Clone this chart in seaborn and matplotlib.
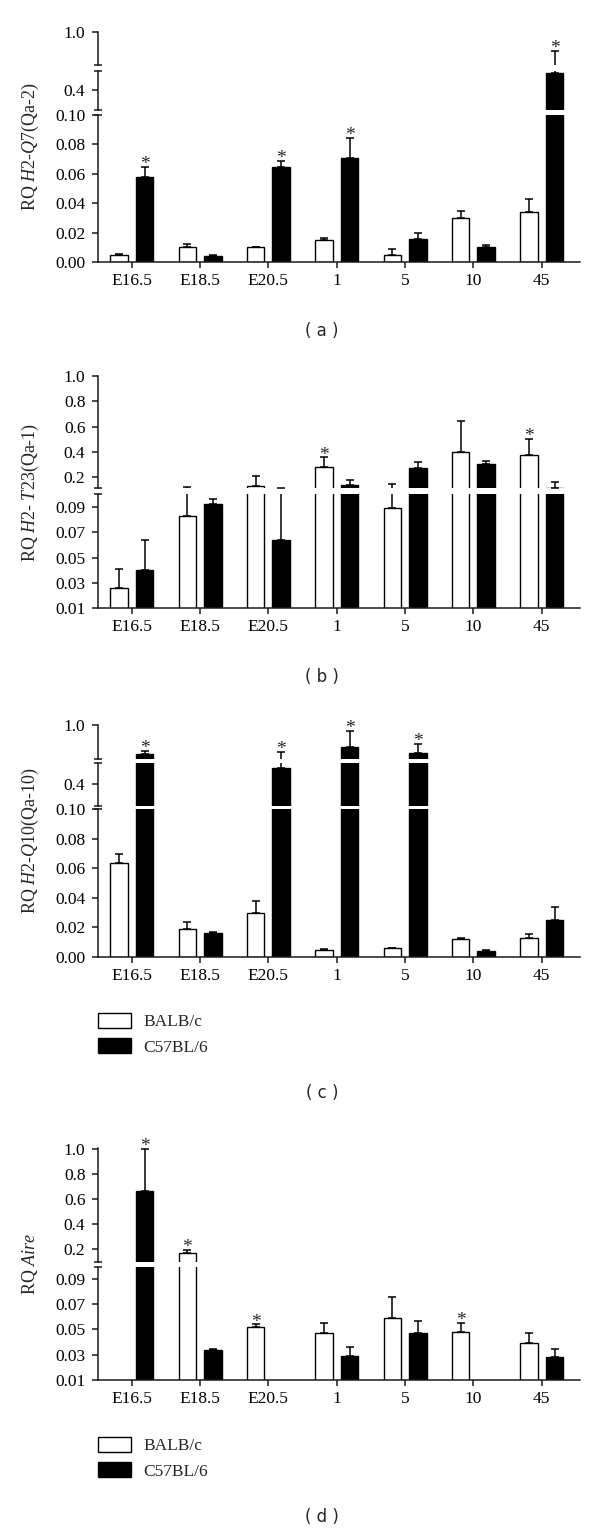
import numpy as np
import pandas as pd
import matplotlib
matplotlib.use("Agg")
import matplotlib.pyplot as plt
import seaborn as sns
from matplotlib.patches import Patch
from matplotlib.container import BarContainer

sns.set_style("ticks")
plt.rcParams['font.family'] = ['Liberation Serif', 'DejaVu Serif']
plt.rcParams['mathtext.fontset'] = 'custom'
plt.rcParams['mathtext.rm'] = 'Liberation Serif'
plt.rcParams['mathtext.it'] = 'Liberation Serif:italic'

# ---------------- data ----------------
categories = ["E16.5", "E18.5", "E20.5", "1", "5", "10", "45"]
strains = ["BALB/c", "C57BL/6"]

# (a) H2-Q7 (Qa-2)
a_balb = [0.0045, 0.010, 0.010, 0.0152, 0.005, 0.0297, 0.034]
a_balb_sem = [0.0009, 0.0025, 0.0002, 0.0014, 0.0036, 0.0053, 0.0086]
a_c57 = [0.058, 0.0041, 0.0644, 0.0705, 0.0154, 0.0104, 0.572]
a_c57_sem = [0.0064, 0.0004, 0.0041, 0.0141, 0.0041, 0.0012, 0.199]
a_sig = [("E16.5", "C57BL/6"), ("E20.5", "C57BL/6"), ("1", "C57BL/6"), ("45", "C57BL/6")]

# (b) H2-T23 (Qa-1)
b_balb = [0.0255, 0.083, 0.132, 0.282, 0.089, 0.400, 0.376]
b_balb_sem = [0.0155, 0.038, 0.073, 0.073, 0.056, 0.245, 0.124]
b_c57 = [0.040, 0.092, 0.0635, 0.137, 0.268, 0.303, 0.116]
b_c57_sem = [0.024, 0.004, 0.049, 0.037, 0.050, 0.021, 0.042]
b_sig = [("1", "BALB/c"), ("45", "BALB/c")]

# (c) H2-Q10 (Qa-10)
c_balb = [0.0634, 0.0187, 0.0296, 0.0050, 0.0059, 0.0122, 0.0129]
c_balb_sem = [0.0066, 0.0053, 0.0084, 0.0006, 0.0003, 0.0007, 0.0029]
c_c57 = [0.658, 0.0160, 0.548, 0.747, 0.670, 0.0043, 0.025]
c_c57_sem = [0.042, 0.0010, 0.141, 0.183, 0.108, 0.0007, 0.009]
c_sig = [("E16.5", "C57BL/6"), ("E20.5", "C57BL/6"), ("1", "C57BL/6"), ("5", "C57BL/6")]

# (d) Aire
d_balb = [np.nan, 0.171, 0.0523, 0.047, 0.0592, 0.048, 0.039]
d_balb_sem = [np.nan, 0.024, 0.0017, 0.0082, 0.017, 0.007, 0.0085]
d_c57 = [0.66, 0.0337, np.nan, 0.0289, 0.047, np.nan, 0.0278]
d_c57_sem = [0.34, 0.0010, np.nan, 0.0071, 0.0095, np.nan, 0.0064]
d_sig = [("E16.5", "C57BL/6"), ("E18.5", "BALB/c"), ("E20.5", "BALB/c"), ("10", "BALB/c")]

ylabels = [r"RQ $\mathit{H2}$-$\mathit{Q7}$(Qa-2)",
           r"RQ $\mathit{H2}$- $\mathit{T23}$(Qa-1)",
           r"RQ $\mathit{H2}$-$\mathit{Q10}$(Qa-10)",
           r"RQ $\mathit{Aire}$"]
panel_tags = ["( a )", "( b )", "( c )", "( d )"]

# ---------------- layout (pixels) ----------------
W, H = 600, 1533
X0, X1 = 98, 580
INK = "#1a1a1a"
FS = 12.5

def fbox(x0, y0, x1, y1):
    return [x0 / W, 1 - y1 / H, (x1 - x0) / W, (y1 - y0) / H]

def ticks_fmt(vals, fmt):
    return vals, [fmt.format(v) for v in vals]

seg3_a = [(31.5, 65, 0.6, 1.0) + ticks_fmt([1.0], "{:.1f}"),
          (70.5, 110, 0.2, 0.6) + ticks_fmt([0.4], "{:.1f}"),
          (115, 262, 0.0, 0.10) + ticks_fmt([0, 0.02, 0.04, 0.06, 0.08, 0.10], "{:.2f}")]
seg2_b = [(376, 488.4, 0.11, 1.0) + ticks_fmt([0.2, 0.4, 0.6, 0.8, 1.0], "{:.1f}"),
          (494.4, 608, 0.01, 0.10) + ticks_fmt([0.01, 0.03, 0.05, 0.07, 0.09], "{:.2f}")]
seg3_c = [(725, 759.3, 0.6, 1.0) + ticks_fmt([1.0], "{:.1f}"),
          (762.7, 806, 0.2, 0.6) + ticks_fmt([0.4], "{:.1f}"),
          (809.3, 957, 0.0, 0.10) + ticks_fmt([0, 0.02, 0.04, 0.06, 0.08, 0.10], "{:.2f}")]
seg2_d = [(1148, 1262, 0.1, 1.004) + ticks_fmt([0.2, 0.4, 0.6, 0.8, 1.0], "{:.1f}"),
          (1266.7, 1379.7, 0.01, 0.10) + ticks_fmt([0.01, 0.03, 0.05, 0.07, 0.09], "{:.2f}")]

panels = [
    dict(vals=(a_balb, a_c57), sems=(a_balb_sem, a_c57_sem), sig=a_sig, segs=seg3_a,
         tag_y=331, legend_y=None),
    dict(vals=(b_balb, b_c57), sems=(b_balb_sem, b_c57_sem), sig=b_sig, segs=seg2_b,
         tag_y=677, legend_y=None),
    dict(vals=(c_balb, c_c57), sems=(c_balb_sem, c_c57_sem), sig=c_sig, segs=seg3_c,
         tag_y=1093, legend_y=1013),
    dict(vals=(d_balb, d_c57), sems=(d_balb_sem, d_c57_sem), sig=d_sig, segs=seg2_d,
         tag_y=1517, legend_y=1437),
]

fig = plt.figure(figsize=(W / 100, H / 100), dpi=100)
palette = {"BALB/c": "white", "C57BL/6": "black"}

for p_i, P in enumerate(panels):
    df = pd.DataFrame({
        "age": categories * 2,
        "strain": [strains[0]] * len(categories) + [strains[1]] * len(categories),
        "rq": list(P["vals"][0]) + list(P["vals"][1]),
    })
    segs = P["segs"]
    axes = []
    bar_sets = []
    for s_i, (yt, yb, lo, hi, tv, tl) in enumerate(segs):
        ax = fig.add_axes(fbox(X0, yt, X1, yb))
        sns.barplot(data=df, x="age", y="rq", hue="strain", order=categories,
                    hue_order=strains, palette=palette, edgecolor="black",
                    linewidth=1.0, width=0.75, gap=0.32, errorbar=None,
                    legend=False, ax=ax)
        bconts = [c for c in ax.containers if isinstance(c, BarContainer)]
        # error bars (upper only) at the bars seaborn drew
        for h_i, cont in enumerate(bconts):
            sem = P["sems"][h_i]
            for bar in cont:
                ht = bar.get_height()
                if ht is None or np.isnan(ht):
                    continue
                cx = bar.get_x() + bar.get_width() / 2
                ci = int(round(cx))
                e = sem[ci]
                if np.isnan(e):
                    continue
                ax.errorbar([cx], [ht], yerr=[[0], [e]], fmt="none", ecolor="black",
                            elinewidth=1.1, capsize=3.2, capthick=1.1, zorder=1)
        ax.set_xlim(-0.493, 6.56)
        ax.set_ylim(lo, hi)
        ax.set_yticks(tv)
        ax.set_yticklabels(tl)
        ax.set_xlabel("")
        ax.set_ylabel("")
        ax.patch.set_alpha(0)
        for sp in ["top", "right"]:
            ax.spines[sp].set_visible(False)
        ax.spines["left"].set_color(INK)
        ax.spines["left"].set_linewidth(1.1)
        ax.tick_params(axis="y", direction="out", length=4, width=1.1, pad=5,
                       labelsize=FS, colors=INK, labelcolor="black")
        last = s_i == len(segs) - 1
        if last:
            ax.spines["bottom"].set_color(INK)
            ax.spines["bottom"].set_linewidth(1.1)
            ax.tick_params(axis="x", direction="out", length=4, width=1.1, pad=4,
                           labelsize=FS, colors=INK, labelcolor="black")
        else:
            ax.spines["bottom"].set_visible(False)
            ax.tick_params(axis="x", bottom=False, labelbottom=False)
        # break marks on the y axis
        d = 4.0 / (X1 - X0)
        if s_i > 0:
            ax.plot([-d, d], [1, 1], transform=ax.transAxes, color=INK, lw=1.1,
                    clip_on=False, solid_capstyle="butt")
        if not last:
            ax.plot([-d, d], [0, 0], transform=ax.transAxes, color=INK, lw=1.1,
                    clip_on=False, solid_capstyle="butt")
        axes.append(ax)
        bar_sets.append(bconts)

    # significance asterisks
    for cat, st in P["sig"]:
        ci = categories.index(cat)
        hi_ = strains.index(st)
        top = P["vals"][hi_][ci] + P["sems"][hi_][ci]
        t_idx = 0
        for k in range(len(segs) - 1, -1, -1):
            lo, hi = segs[k][2], segs[k][3]
            if lo <= top <= hi:
                t_idx = k
                break
        target = axes[t_idx]
        for bar in bar_sets[t_idx][hi_]:
            cx = bar.get_x() + bar.get_width() / 2
            if int(round(cx)) == ci:
                target.annotate("*", xy=(cx, top), xytext=(0, -1.5),
                                textcoords="offset points", ha="center",
                                va="baseline", fontsize=14, annotation_clip=False)
                break

    ytop = segs[0][0]
    ybot = segs[-1][1]
    fig.text(30 / W, 1 - (ytop + ybot) / 2 / H, ylabels[p_i], rotation=90,
             ha="center", va="center", fontsize=13)
    fig.text(322 / W, 1 - P["tag_y"] / H, panel_tags[p_i], ha="center", va="center",
             fontsize=12, family=["DejaVu Sans"])
    if P["legend_y"] is not None:
        handles = [Patch(facecolor="white", edgecolor="black", linewidth=1.0),
                   Patch(facecolor="black", edgecolor="black", linewidth=1.0)]
        fig.legend(handles, strains, loc="upper left",
                   bbox_to_anchor=(X0 / W, 1 - P["legend_y"] / H), frameon=False,
                   fontsize=FS, handlelength=1.9, handleheight=0.95,
                   handletextpad=0.7, labelspacing=0.45, borderpad=0,
                   borderaxespad=0)

fig.savefig("out.png", dpi=100)
